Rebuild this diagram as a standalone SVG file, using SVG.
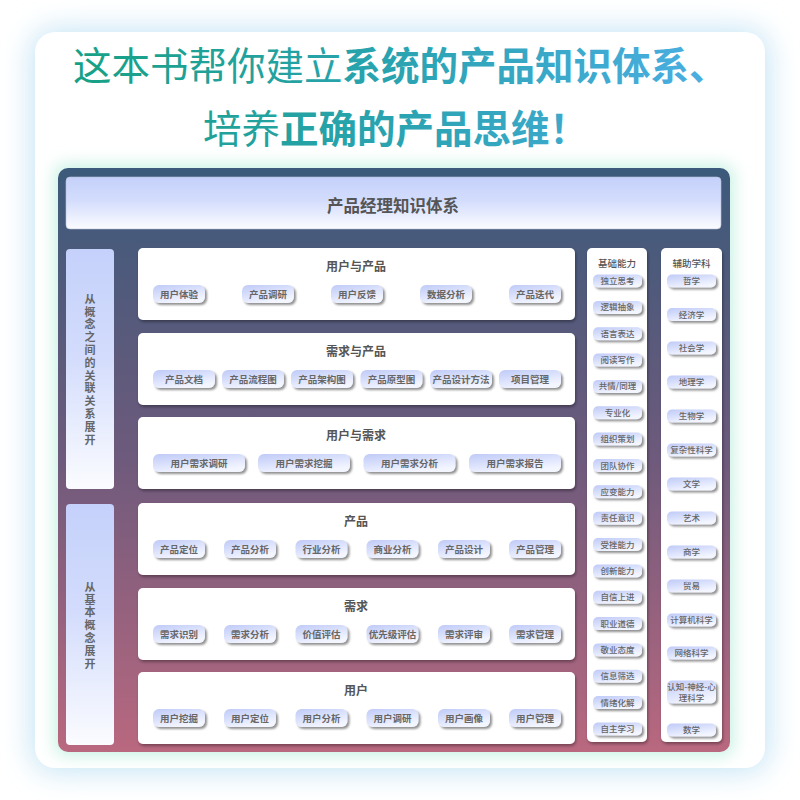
<svg xmlns="http://www.w3.org/2000/svg" width="800" height="800" viewBox="0 0 800 800">
<defs>
<style>
text{font-family:"Noto Sans CJK SC","Noto Sans",sans-serif;}
.t1{font-size:38.5px;fill:url(#titleGrad);}
.b{font-weight:700;}
.hdr{font-size:16.5px;font-weight:700;fill:#555;text-anchor:middle;}
.vlab{font-size:11px;font-weight:700;fill:#666;text-anchor:middle;writing-mode:vertical-rl;letter-spacing:1.8px;}
.btitle{font-size:12px;font-weight:700;fill:#555;text-anchor:middle;}
.pt{font-size:9.5px;font-weight:700;fill:#666;text-anchor:middle;}
.ct{font-size:9.5px;font-weight:500;fill:#555;text-anchor:middle;}
.cpt{font-size:8.5px;font-weight:500;fill:#666;text-anchor:middle;}
.box{fill:#fff;filter:url(#boxShadow);}
.pill{fill:url(#pillGrad);filter:url(#pillShadow);}
.soft{fill:url(#softGrad);}
</style>
<linearGradient id="titleGrad" gradientUnits="userSpaceOnUse" x1="75" y1="0" x2="710" y2="0">
<stop offset="0" stop-color="#17a085"/>
<stop offset="0.5" stop-color="#2aa3b0"/>
<stop offset="1" stop-color="#4aaee2"/>
</linearGradient>
<linearGradient id="panelGrad" x1="0" y1="0" x2="0" y2="1">
<stop offset="0" stop-color="#3c5a7b"/>
<stop offset="0.5" stop-color="#6e5a7c"/>
<stop offset="1" stop-color="#b9687f"/>
</linearGradient>
<linearGradient id="softGrad" x1="0" y1="0" x2="0" y2="1">
<stop offset="0" stop-color="#c5d1fb"/>
<stop offset="0.45" stop-color="#d3dcfc"/>
<stop offset="1" stop-color="#fbfcff"/>
</linearGradient>
<linearGradient id="pillGrad" x1="0" y1="0" x2="0.5" y2="1">
<stop offset="0" stop-color="#bfcaf7"/>
<stop offset="0.6" stop-color="#dfe5fd"/>
<stop offset="1" stop-color="#f4f6ff"/>
</linearGradient>
<filter id="glowBlue" x="-20%" y="-20%" width="140%" height="140%">
<feGaussianBlur stdDeviation="14"/>
</filter>
<filter id="glowMint" x="-20%" y="-20%" width="140%" height="140%">
<feGaussianBlur stdDeviation="8"/>
</filter>
<filter id="boxShadow" x="-10%" y="-10%" width="120%" height="130%">
<feDropShadow dx="1" dy="2" stdDeviation="1.5" flood-color="#000" flood-opacity="0.35"/>
</filter>
<filter id="pillShadow" x="-20%" y="-30%" width="140%" height="170%">
<feDropShadow dx="2" dy="2" stdDeviation="0.8" flood-color="#555" flood-opacity="0.65"/>
</filter>
</defs>

<rect width="800" height="800" fill="#ffffff"/>
<rect x="30" y="28" width="740" height="745" rx="26" fill="#c9e6f6" filter="url(#glowBlue)"/>
<rect x="35" y="32" width="730" height="736" rx="20" fill="#ffffff"/>

<g id="title">
<text class="t1" x="73" y="80">这本书帮你建立<tspan class="b">系统的产品知识体系、</tspan></text>
<text class="t1" x="203" y="143">培养<tspan class="b">正确的产品思维！</tspan></text>
</g>

<rect x="54" y="164" width="680" height="592" rx="12" fill="#c9f2e4" filter="url(#glowMint)"/>
<rect id="panel" x="58" y="168" width="672" height="584" rx="10" fill="url(#panelGrad)"/>

<g id="header">
<rect x="66" y="177" width="655" height="52" rx="4" class="soft" stroke="#b9c0d8" stroke-width="0.6"/>
<text class="hdr" x="393" y="212">产品经理知识体系</text>
</g>

<g id="left-label-1">
<rect x="66" y="249" width="48" height="240" rx="4" class="soft"/>
<text class="vlab" x="90" y="370">从概念之间的关联关系展开</text>
</g>
<g id="left-label-2">
<rect x="66" y="504" width="48" height="241" rx="4" class="soft"/>
<text class="vlab" x="90" y="626">从基本概念展开</text>
</g>

<g id="box-user-product">
<rect class="box" x="138" y="248" width="437" height="72" rx="5"/>
<text class="btitle" x="356" y="271">用户与产品</text>
<rect class="pill" x="153" y="285" width="52" height="18" rx="6"/><text class="pt" x="179" y="297.5">用户体验</text>
<rect class="pill" x="242" y="285" width="52" height="18" rx="6"/><text class="pt" x="268" y="297.5">产品调研</text>
<rect class="pill" x="331" y="285" width="52" height="18" rx="6"/><text class="pt" x="357" y="297.5">用户反馈</text>
<rect class="pill" x="420" y="285" width="52" height="18" rx="6"/><text class="pt" x="446" y="297.5">数据分析</text>
<rect class="pill" x="509" y="285" width="52" height="18" rx="6"/><text class="pt" x="535" y="297.5">产品迭代</text>
</g>

<g id="box-need-product">
<rect class="box" x="138" y="333" width="437" height="72" rx="5"/>
<text class="btitle" x="356" y="356">需求与产品</text>
<rect class="pill" x="153" y="370" width="62" height="18" rx="6"/><text class="pt" x="184" y="382.5">产品文档</text>
<rect class="pill" x="222" y="370" width="62" height="18" rx="6"/><text class="pt" x="253" y="382.5">产品流程图</text>
<rect class="pill" x="291" y="370" width="62" height="18" rx="6"/><text class="pt" x="322" y="382.5">产品架构图</text>
<rect class="pill" x="360.5" y="370" width="62" height="18" rx="6"/><text class="pt" x="391.5" y="382.5">产品原型图</text>
<rect class="pill" x="430" y="370" width="62" height="18" rx="6"/><text class="pt" x="461" y="382.5">产品设计方法</text>
<rect class="pill" x="499" y="370" width="62" height="18" rx="6"/><text class="pt" x="530" y="382.5">项目管理</text>
</g>

<g id="box-user-need">
<rect class="box" x="138" y="417" width="437" height="72" rx="5"/>
<text class="btitle" x="356" y="440">用户与需求</text>
<rect class="pill" x="153" y="454" width="92" height="18" rx="6"/><text class="pt" x="199" y="466.5">用户需求调研</text>
<rect class="pill" x="258" y="454" width="92" height="18" rx="6"/><text class="pt" x="304" y="466.5">用户需求挖掘</text>
<rect class="pill" x="363.5" y="454" width="92" height="18" rx="6"/><text class="pt" x="409.5" y="466.5">用户需求分析</text>
<rect class="pill" x="469" y="454" width="92" height="18" rx="6"/><text class="pt" x="515" y="466.5">用户需求报告</text>
</g>

<g id="box-product">
<rect class="box" x="138" y="503" width="437" height="72" rx="5"/>
<text class="btitle" x="356" y="526">产品</text>
<rect class="pill" x="153" y="540" width="52" height="18" rx="6"/><text class="pt" x="179" y="552.5">产品定位</text>
<rect class="pill" x="224" y="540" width="52" height="18" rx="6"/><text class="pt" x="250" y="552.5">产品分析</text>
<rect class="pill" x="295.5" y="540" width="52" height="18" rx="6"/><text class="pt" x="321.5" y="552.5">行业分析</text>
<rect class="pill" x="366.5" y="540" width="52" height="18" rx="6"/><text class="pt" x="392.5" y="552.5">商业分析</text>
<rect class="pill" x="438" y="540" width="52" height="18" rx="6"/><text class="pt" x="464" y="552.5">产品设计</text>
<rect class="pill" x="509" y="540" width="52" height="18" rx="6"/><text class="pt" x="535" y="552.5">产品管理</text>
</g>

<g id="box-need">
<rect class="box" x="138" y="588" width="437" height="72" rx="5"/>
<text class="btitle" x="356" y="611">需求</text>
<rect class="pill" x="153" y="625" width="52" height="18" rx="6"/><text class="pt" x="179" y="637.5">需求识别</text>
<rect class="pill" x="224" y="625" width="52" height="18" rx="6"/><text class="pt" x="250" y="637.5">需求分析</text>
<rect class="pill" x="295.5" y="625" width="52" height="18" rx="6"/><text class="pt" x="321.5" y="637.5">价值评估</text>
<rect class="pill" x="366.5" y="625" width="52" height="18" rx="6"/><text class="pt" x="392.5" y="637.5">优先级评估</text>
<rect class="pill" x="438" y="625" width="52" height="18" rx="6"/><text class="pt" x="464" y="637.5">需求评审</text>
<rect class="pill" x="509" y="625" width="52" height="18" rx="6"/><text class="pt" x="535" y="637.5">需求管理</text>
</g>

<g id="box-user">
<rect class="box" x="138" y="672" width="437" height="72" rx="5"/>
<text class="btitle" x="356" y="695">用户</text>
<rect class="pill" x="153" y="709" width="52" height="18" rx="6"/><text class="pt" x="179" y="721.5">用户挖掘</text>
<rect class="pill" x="224" y="709" width="52" height="18" rx="6"/><text class="pt" x="250" y="721.5">用户定位</text>
<rect class="pill" x="295.5" y="709" width="52" height="18" rx="6"/><text class="pt" x="321.5" y="721.5">用户分析</text>
<rect class="pill" x="366.5" y="709" width="52" height="18" rx="6"/><text class="pt" x="392.5" y="721.5">用户调研</text>
<rect class="pill" x="438" y="709" width="52" height="18" rx="6"/><text class="pt" x="464" y="721.5">用户画像</text>
<rect class="pill" x="509" y="709" width="52" height="18" rx="6"/><text class="pt" x="535" y="721.5">用户管理</text>
</g>

<g id="col-basic">
<rect class="box" x="587" y="248" width="60" height="494" rx="5"/>
<text class="ct" x="617" y="267">基础能力</text>
<rect class="pill" x="593" y="274.5" width="49" height="13" rx="5"/><text class="cpt" x="617.5" y="284">独立思考</text>
<rect class="pill" x="593" y="300.9" width="49" height="13" rx="5"/><text class="cpt" x="617.5" y="310.4">逻辑抽象</text>
<rect class="pill" x="593" y="327.2" width="49" height="13" rx="5"/><text class="cpt" x="617.5" y="336.7">语言表达</text>
<rect class="pill" x="593" y="353.6" width="49" height="13" rx="5"/><text class="cpt" x="617.5" y="363.1">阅读写作</text>
<rect class="pill" x="593" y="379.9" width="49" height="13" rx="5"/><text class="cpt" x="617.5" y="389.4">共情/同理</text>
<rect class="pill" x="593" y="406.3" width="49" height="13" rx="5"/><text class="cpt" x="617.5" y="415.8">专业化</text>
<rect class="pill" x="593" y="432.6" width="49" height="13" rx="5"/><text class="cpt" x="617.5" y="442.1">组织策划</text>
<rect class="pill" x="593" y="459" width="49" height="13" rx="5"/><text class="cpt" x="617.5" y="468.5">团队协作</text>
<rect class="pill" x="593" y="485.3" width="49" height="13" rx="5"/><text class="cpt" x="617.5" y="494.8">应变能力</text>
<rect class="pill" x="593" y="511.7" width="49" height="13" rx="5"/><text class="cpt" x="617.5" y="521.2">责任意识</text>
<rect class="pill" x="593" y="538" width="49" height="13" rx="5"/><text class="cpt" x="617.5" y="547.5">受挫能力</text>
<rect class="pill" x="593" y="564.4" width="49" height="13" rx="5"/><text class="cpt" x="617.5" y="573.9">创新能力</text>
<rect class="pill" x="593" y="590.7" width="49" height="13" rx="5"/><text class="cpt" x="617.5" y="600.2">自信上进</text>
<rect class="pill" x="593" y="617.1" width="49" height="13" rx="5"/><text class="cpt" x="617.5" y="626.6">职业道德</text>
<rect class="pill" x="593" y="643.4" width="49" height="13" rx="5"/><text class="cpt" x="617.5" y="652.9">敬业态度</text>
<rect class="pill" x="593" y="669.8" width="49" height="13" rx="5"/><text class="cpt" x="617.5" y="679.3">信息筛选</text>
<rect class="pill" x="593" y="696.1" width="49" height="13" rx="5"/><text class="cpt" x="617.5" y="705.6">情绪化解</text>
<rect class="pill" x="593" y="722.5" width="49" height="13" rx="5"/><text class="cpt" x="617.5" y="732">自主学习</text>
</g>

<g id="col-aux">
<rect class="box" x="661" y="248" width="61" height="494" rx="5"/>
<text class="ct" x="691.5" y="267">辅助学科</text>
<rect class="pill" x="667" y="274.5" width="49" height="13" rx="5"/><text class="cpt" x="691.5" y="284">哲学</text>
<rect class="pill" x="667" y="308" width="49" height="13" rx="5"/><text class="cpt" x="691.5" y="317.5">经济学</text>
<rect class="pill" x="667" y="341.5" width="49" height="13" rx="5"/><text class="cpt" x="691.5" y="351">社会学</text>
<rect class="pill" x="667" y="375.5" width="49" height="13" rx="5"/><text class="cpt" x="691.5" y="385">地理学</text>
<rect class="pill" x="667" y="409.5" width="49" height="13" rx="5"/><text class="cpt" x="691.5" y="419">生物学</text>
<rect class="pill" x="667" y="443.5" width="49" height="13" rx="5"/><text class="cpt" x="691.5" y="453">复杂性科学</text>
<rect class="pill" x="667" y="477.5" width="49" height="13" rx="5"/><text class="cpt" x="691.5" y="487">文学</text>
<rect class="pill" x="667" y="511.5" width="49" height="13" rx="5"/><text class="cpt" x="691.5" y="521">艺术</text>
<rect class="pill" x="667" y="545.5" width="49" height="13" rx="5"/><text class="cpt" x="691.5" y="555">商学</text>
<rect class="pill" x="667" y="579.5" width="49" height="13" rx="5"/><text class="cpt" x="691.5" y="589">贸易</text>
<rect class="pill" x="667" y="613.5" width="49" height="13" rx="5"/><text class="cpt" x="691.5" y="623">计算机科学</text>
<rect class="pill" x="667" y="646.5" width="49" height="13" rx="5"/><text class="cpt" x="691.5" y="656">网络科学</text>
<rect class="pill" x="667" y="680.5" width="49" height="23" rx="5"/><text class="cpt" x="691.5"><tspan x="691.5" y="690">认知-神经-心</tspan><tspan x="691.5" y="700.5">理科学</tspan></text>
<rect class="pill" x="667" y="723.5" width="49" height="13" rx="5"/><text class="cpt" x="691.5" y="733">数学</text>
</g>
</svg>
